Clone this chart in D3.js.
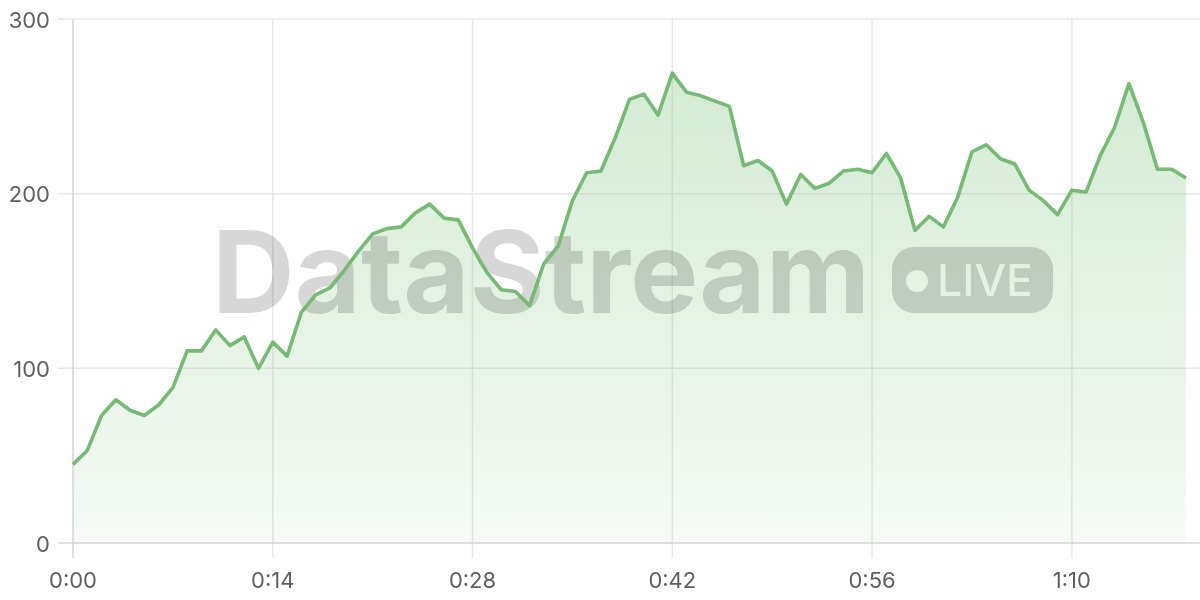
<!DOCTYPE html>
<html><head><meta charset="utf-8">
<script src="https://cdn.jsdelivr.net/npm/d3@7"></script>
<style>html,body{margin:0;padding:0;background:#fff;}svg{display:block;}</style>
</head><body>
<svg id="chart" width="1200" height="600"></svg>
<script>
const values = [45,53,73,82,76,73,79,89,110,110,122,113,118,100,115,107,132,142,146,156,167,177,180,181,189,194,186,185,169,155,145,144,136,160,170,196,212,213,232,254,257,245,269,258,256,253,250,216,219,213,194,211,203,206,213,214,212,223,209,179,187,181,198,224,228,220,217,202,196,188,202,201,222,238,263,241,214,214,209];
const xTicks = [0,14,28,42,56,70];
const xTickLabels = ["0:00","0:14","0:28","0:42","0:56","1:10"];
const yTicks = [0,100,200,300];

(function(){
const svg = d3.select("#chart");
const pLeft = 73, pRight = 1186, pTop = 19, pBottom = 543, pEdge = 1200;
const x = d3.scaleLinear().domain([0, values.length - 1]).range([pLeft, pRight]);
const y = d3.scaleLinear().domain([0, 300]).range([pBottom, pTop]);
const font = "Inter, 'Helvetica Neue', 'Liberation Sans', Arial, sans-serif";

const defs = svg.append("defs");
const grad = defs.append("linearGradient").attr("id","fillGrad").attr("x1",0).attr("y1",0).attr("x2",0).attr("y2",1);
grad.append("stop").attr("offset","0%").attr("stop-color","#7cc17a").attr("stop-opacity",0.33);
grad.append("stop").attr("offset","100%").attr("stop-color","#7cc17a").attr("stop-opacity",0.07);

// horizontal grid
svg.append("g").selectAll("line").data(yTicks.filter(d=>d>0)).join("line")
  .attr("x1", 58).attr("x2", pEdge).attr("y1", d=>y(d)).attr("y2", d=>y(d))
  .attr("stroke", "#e8e8e8").attr("stroke-width", 1.5);
// vertical grid
svg.append("g").selectAll("line").data(xTicks.filter(d=>d>0)).join("line")
  .attr("x1", d=>x(d)).attr("x2", d=>x(d)).attr("y1", pTop).attr("y2", pBottom + 15)
  .attr("stroke", "#e8e8e8").attr("stroke-width", 1.5);

// area
const area = d3.area().x((d,i)=>x(i)).y0(pBottom).y1(d=>y(d));
svg.append("path").datum(values).attr("d", area).attr("fill", "url(#fillGrad)");

// watermark
const wm = svg.append("g").attr("opacity", 0.16);
wm.append("text").attr("x", 212).attr("y", 313).attr("font-family", "Inter, 'Open Sans', sans-serif")
  .attr("font-weight", 700).attr("font-size", 114).attr("textLength", 658).attr("lengthAdjust","spacingAndGlyphs")
  .attr("fill", "#000").text("DataStream");
const mask = defs.append("mask").attr("id","pillMask");
mask.append("rect").attr("x",0).attr("y",0).attr("width",1200).attr("height",600).attr("fill","#fff");
mask.append("circle").attr("cx", 917).attr("cy", 281).attr("r", 11).attr("fill", "#000");
mask.append("text").attr("x", 937).attr("y", 296).attr("font-family", "Inter, 'Open Sans', sans-serif")
  .attr("font-weight", 500).attr("font-size", 44).attr("textLength", 96).attr("lengthAdjust","spacingAndGlyphs")
  .attr("fill", "#000").text("LIVE");
wm.append("rect").attr("x", 892).attr("y", 247).attr("width", 161).attr("height", 66).attr("rx", 22)
  .attr("fill", "#000").attr("mask", "url(#pillMask)");

// axes lines
svg.append("line").attr("x1", pLeft).attr("x2", pLeft).attr("y1", pTop).attr("y2", pBottom + 15)
  .attr("stroke", "#d4d4d4").attr("stroke-width", 1.5);
svg.append("line").attr("x1", 58).attr("x2", pLeft).attr("y1", pTop).attr("y2", pTop)
  .attr("stroke", "#e8e8e8").attr("stroke-width", 1.5);
svg.append("line").attr("x1", 58).attr("x2", pEdge).attr("y1", pBottom).attr("y2", pBottom)
  .attr("stroke", "#d4d4d4").attr("stroke-width", 1.5);

// line
const line = d3.line().x((d,i)=>x(i)).y(d=>y(d));
svg.append("path").datum(values).attr("d", line).attr("fill", "none")
  .attr("stroke", "#76ba75").attr("stroke-width", 3.6).attr("stroke-linejoin", "round");

// y labels
svg.append("g").selectAll("text").data(yTicks).join("text")
  .attr("x", 50).attr("y", d=>y(d)).attr("dy", "0.4em").attr("text-anchor", "end")
  .attr("font-family", font).attr("font-size", 22).attr("fill", "#5f5f5f").text(d=>d);
// x labels
svg.append("g").selectAll("text").data(xTicks).join("text")
  .attr("x", d=>x(d)).attr("y", 588).attr("text-anchor", "middle")
  .attr("font-family", font).attr("font-size", 22).attr("fill", "#5f5f5f").text((d,i)=>xTickLabels[i]);
})();
</script>
</body></html>
